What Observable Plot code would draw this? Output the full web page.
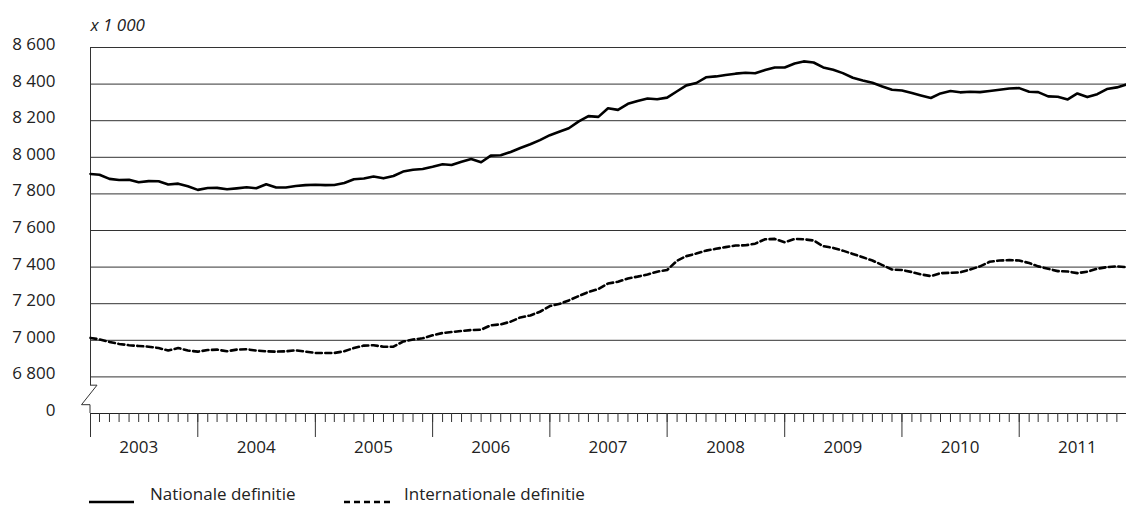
<!DOCTYPE html>
<html>
<head>
<meta charset="utf-8">
<script src="https://cdn.jsdelivr.net/npm/d3@7"></script>
<script src="https://cdn.jsdelivr.net/npm/@observablehq/plot@0.6"></script>
<style>
  body { margin: 0; background: #fff; font-family: "Open Sans", sans-serif; color: #222; }
  #chart { position: relative; width: 1126px; height: 505px; }
  #legend { position: absolute; left: 0; top: 470px; width: 1126px; height: 35px; font-size: 17px; }
  #legend span { position: absolute; top: 14px; line-height: 20px; white-space: nowrap; }
  #legend svg { position: absolute; }
</style>
</head>
<body>
<div id="chart"></div>
<script>
// Monthly series, February 2003 – December 2011 (x 1 000)
const nationaal = [
  7909, 7905, 7882, 7876, 7877, 7864, 7870, 7869, 7851, 7856,
  7842, 7822, 7832, 7833, 7825, 7830, 7836, 7831, 7853, 7835,
  7835, 7843, 7848, 7850, 7848, 7849, 7860, 7880, 7884, 7895,
  7885, 7898, 7922, 7932, 7936, 7948, 7962, 7958, 7976, 7991,
  7973, 8009, 8011, 8029, 8051, 8071, 8094, 8121, 8141, 8159,
  8196, 8225, 8221, 8268, 8259, 8292, 8308, 8321, 8317, 8326,
  8361, 8393, 8406, 8437, 8442, 8450, 8457, 8462, 8459, 8477,
  8491, 8491, 8513, 8524, 8518, 8491, 8478, 8460, 8435, 8420,
  8407, 8387, 8369, 8365, 8351, 8338, 8324, 8349, 8362, 8355,
  8358, 8356, 8362, 8369, 8376, 8378, 8358, 8356, 8333, 8331,
  8316, 8349, 8329, 8345, 8373, 8382, 8398
];
const internationaal = [
  7013, 7005, 6991, 6980, 6973, 6969, 6965, 6958, 6944, 6958,
  6944, 6938, 6947, 6949, 6940, 6949, 6951, 6944, 6940, 6938,
  6940, 6945, 6938, 6931, 6931, 6931, 6940, 6958, 6971, 6973,
  6965, 6965, 6993, 7004, 7011, 7027, 7040, 7045, 7051, 7056,
  7058, 7082, 7087, 7102, 7125, 7136, 7156, 7187, 7200, 7218,
  7242, 7264, 7280, 7310, 7320, 7338, 7348, 7360, 7375, 7384,
  7435, 7460, 7474, 7490, 7500, 7509, 7518, 7519, 7528, 7552,
  7554, 7536, 7554, 7552, 7545, 7514, 7505, 7490, 7472, 7454,
  7436, 7411, 7387, 7384, 7373, 7360, 7351, 7367, 7369, 7371,
  7387, 7404, 7429, 7436, 7438, 7436, 7422, 7404, 7391, 7378,
  7376, 7367, 7375, 7391, 7400, 7404, 7400
];
const yearLabels = ["2003", "2004", "2005", "2006", "2007", "2008", "2009", "2010", "2011"];
const yTicks = [6600, 6800, 7000, 7200, 7400, 7600, 7800, 8000, 8200, 8400, 8600];
const gridValues = [6800, 7000, 7200, 7400, 7600, 7800, 8000, 8200, 8400, 8600];
const unitLabel = "x 1 000";
const seriesNames = ["Nationale definitie", "Internationale definitie"];

const months = d3.utcMonth.range(new Date(Date.UTC(2003, 1, 1)), new Date(Date.UTC(2011, 11, 2)));
const x0 = months[0], xEnd = months[months.length - 1];
const yearStarts = [x0, ...yearLabels.slice(1).map(y => new Date(Date.UTC(+y, 0, 1)))];

const rows = months.flatMap((m, i) => [
  {date: m, value: nationaal[i], serie: seriesNames[0]},
  {date: m, value: internationaal[i], serie: seriesNames[1]}
]);

const fmt = d => d === 6600 ? "0" : d3.format(",")(d).replace(",", " ");

const plot = Plot.plot({
  width: 1126,
  height: 470,
  marginLeft: 90,
  marginRight: 0,
  marginTop: 47,
  marginBottom: 57,
  x: {type: "utc", domain: [x0, xEnd]},
  y: {domain: [6600, 8600]},
  style: {fontFamily: "'Open Sans', sans-serif", fontSize: "17px", color: "#222", background: "#fff"},
  marks: [
    Plot.ruleY(gridValues, {stroke: "#333", strokeWidth: 1}),
    Plot.ruleX([x0], {y1: 6752, y2: 8600, stroke: "#333", strokeWidth: 1}),
    Plot.ruleY([6600], {stroke: "#222", strokeWidth: 1.2}),
    Plot.axisX({ticks: months, tickSize: 9, tickFormat: () => "", stroke: "#333"}),
    Plot.axisX({ticks: yearStarts, tickSize: 24, tickFormat: () => "", stroke: "#333"}),
    Plot.text(yearLabels, {x: d => new Date(Date.UTC(+d, 6, 1)), frameAnchor: "bottom", lineAnchor: "middle", dy: 34.5, fill: "#222"}),
    Plot.axisY({ticks: yTicks, tickSize: 0, tickPadding: 35, tickFormat: fmt, dy: -3, fill: "#222", label: null}),
    Plot.line(rows.filter(d => d.serie === seriesNames[1]), {x: "date", y: "value", stroke: "#000", strokeWidth: 2.6, strokeDasharray: "6,3.5", strokeLinejoin: "round"}),
    Plot.line(rows.filter(d => d.serie === seriesNames[0]), {x: "date", y: "value", stroke: "#000", strokeWidth: 2.6, strokeLinejoin: "round"}),
    Plot.text([unitLabel], {frameAnchor: "top-left", lineAnchor: "middle", dy: -22, textAnchor: "start", fontStyle: "italic", fill: "#222"})
  ]
});

// axis break symbol on the y axis
const xs = plot.scale("x"), ys = plot.scale("y");
const px = xs.apply(x0);
const yTop = ys.apply(6752), yBot = ys.apply(6600);
d3.select(plot).append("path")
  .attr("d", `M${px},${yTop}H${px + 7}L${px - 8.5},${yTop + 19.5}H${px}V${yBot}`)
  .attr("fill", "none").attr("stroke", "#333").attr("stroke-width", 1);

const chart = document.getElementById("chart");
chart.appendChild(plot);

// legend
const legend = document.createElement("div");
legend.id = "legend";
legend.innerHTML = `
  <svg style="left:88px;top:28px" width="48" height="8"><line x1="1" x2="46" y1="4" y2="4" stroke="#000" stroke-width="2.6"/></svg>
  <span style="left:150px">${seriesNames[0]}</span>
  <svg style="left:343px;top:28px" width="52" height="8"><line x1="1" x2="50" y1="4" y2="4" stroke="#000" stroke-width="2.6" stroke-dasharray="6,4"/></svg>
  <span style="left:404px">${seriesNames[1]}</span>`;
chart.appendChild(legend);
</script>
</body>
</html>
